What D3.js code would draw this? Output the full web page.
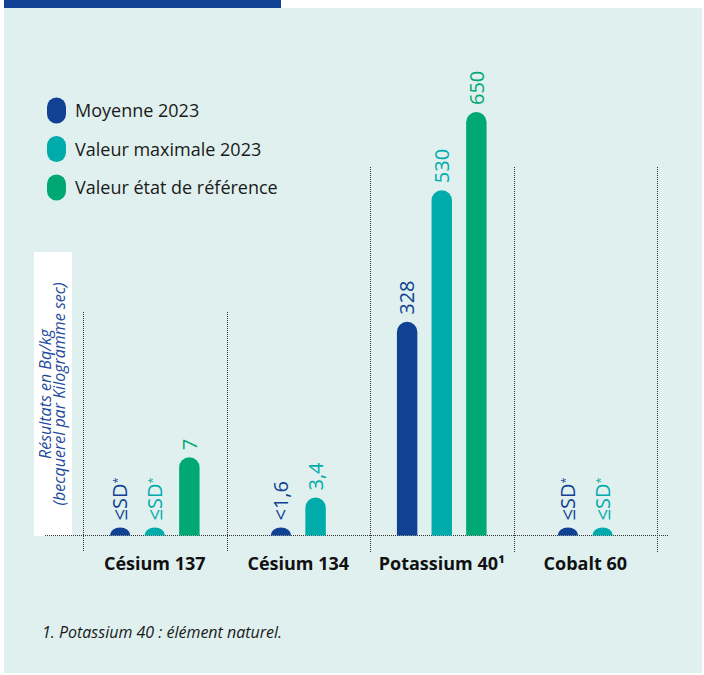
<!DOCTYPE html>
<html>
<head>
<meta charset="utf-8">
<script src="https://cdn.jsdelivr.net/npm/d3@7"></script>
<style>
  body { margin: 0; background: #ffffff; }
  svg { display: block; font-family: "Open Sans", sans-serif; }
</style>
</head>
<body>
<div id="vis"></div>
<script>
// data
const categories = ["Césium 137", "Césium 134", "Potassium 40", "Cobalt 60"];
const categoryLabels = ["Césium 137", "Césium 134", "Potassium 40¹", "Cobalt 60"];
const panelScale = ["low", "low", "high", "high"]; // the caesium panels are zoomed in

const series = ["Moyenne 2023", "Valeur maximale 2023", "Valeur état de référence"];
const moyenne = [null, 1.6, 328, null];
const valeurMax = [null, 3.4, 530, null];
const valeurRef = [7, null, 650, null];
const moyenneLabels = ["≤SD*", "<1,6", "328", "≤SD*"];
const valeurMaxLabels = ["≤SD*", "3,4", "530", "≤SD*"];
const valeurRefLabels = ["7", null, "650", null];

const COLORS = ["#114193", "#00abac", "#00a872"];
const FRAME_WIDTH = 704;
const FRAME_HEIGHT = 675;
const BASE_Y = 535.5;
const PANEL_TOP = {low: 312, high: 167};

const FRAME = d3.select("#vis")
  .append("svg")
    .attr("width", FRAME_WIDTH)
    .attr("height", FRAME_HEIGHT);

// background panel + top band
FRAME.append("rect")
  .attr("x", 4).attr("y", 8)
  .attr("width", 698).attr("height", 665)
  .attr("fill", "#dff0ef");
FRAME.append("rect")
  .attr("x", 4).attr("y", 0)
  .attr("width", 277).attr("height", 8)
  .attr("fill", "#114193");

// scales
const X0 = d3.scaleBand().domain(categories).range([83, 657]);
const Y_SCALES = {
  low: d3.scaleLinear().domain([0, 20]).range([BASE_Y, 312]),
  high: d3.scaleLinear().domain([0, 650]).range([BASE_Y, 112])
};

// y label box
FRAME.append("rect")
  .attr("x", 34).attr("y", 252)
  .attr("width", 38).attr("height", 284)
  .attr("fill", "#ffffff");

const yLab = FRAME.append("text")
  .attr("transform", "translate(0,394) rotate(-90)")
  .attr("text-anchor", "middle")
  .attr("font-style", "italic")
  .attr("font-size", 16)
  .attr("fill", "#1d4a9b");
yLab.append("tspan").attr("x", 0).attr("y", 51).text("Résultats en Bq/kg");
yLab.append("tspan").attr("x", 0).attr("y", 65).text("(becquerel par Kilogramme sec)");

// separators
const sepX = categories.map(c => X0(c)).concat([X0.range()[1]]);
sepX.forEach((x, i) => {
  const tops = [];
  if (i > 0) tops.push(PANEL_TOP[panelScale[i - 1]]);
  if (i < categories.length) tops.push(PANEL_TOP[panelScale[i]]);
  FRAME.append("line")
    .attr("x1", Math.round(x) + 0.5).attr("x2", Math.round(x) + 0.5)
    .attr("y1", d3.min(tops)).attr("y2", 552)
    .attr("stroke", "#333")
    .attr("stroke-width", 1)
    .attr("stroke-dasharray", "1,1");
});

// baseline
FRAME.append("line")
  .attr("x1", 45).attr("x2", 668)
  .attr("y1", BASE_Y).attr("y2", BASE_Y)
  .attr("stroke", "#333")
  .attr("stroke-width", 1)
  .attr("stroke-dasharray", "1,1");

// flatten into marks
const values = [moyenne, valeurMax, valeurRef];
const labels = [moyenneLabels, valeurMaxLabels, valeurRefLabels];
const marks = [];
categories.forEach((c, ci) => {
  const present = series.filter((s, si) => labels[si][ci] !== null);
  const step = 34.5;
  const cx = X0(c) + X0.bandwidth() / 2;
  const x1 = d3.scaleBand()
    .domain(present)
    .range([cx - present.length * step / 2, cx + present.length * step / 2])
    .paddingInner(0.41).paddingOuter(0.2);
  present.forEach(s => {
    const si = series.indexOf(s);
    const lab = labels[si][ci];
    marks.push({
      cat: c, series: s, si: si,
      value: values[si][ci],
      label: lab,
      below: lab[0] === "<" || lab[0] === "≤",
      x: x1(s), w: x1.bandwidth(),
      y: Y_SCALES[panelScale[ci]]
    });
  });
});

function barPath(d) {
  const r = d.w / 2;
  const x = d.x;
  if (d.below) {
    return `M${x},${BASE_Y} A${r},8 0 0 1 ${x + d.w},${BASE_Y} Z`;
  }
  const top = d.y(d.value);
  return `M${x},${BASE_Y} V${top + r} A${r},${r} 0 0 1 ${x + d.w},${top + r} V${BASE_Y} Z`;
}

FRAME.selectAll(".bar")
  .data(marks)
  .enter()
  .append("path")
    .attr("class", "bar")
    .attr("d", barPath)
    .attr("fill", d => COLORS[d.si]);

// value labels, rotated
const vl = FRAME.selectAll(".vlabel")
  .data(marks)
  .enter()
  .append("text")
    .attr("class", "vlabel")
    .attr("transform", d => {
      const top = d.below ? BASE_Y - 8 : d.y(d.value);
      return "translate(" + (d.x + d.w / 2) + "," + (top - 7) + ") rotate(-90)";
    })
    .attr("dy", "0.36em")
    .attr("font-size", 20)
    .attr("font-weight", 500)
    .attr("fill", d => COLORS[d.si]);
vl.each(function(d) {
  const t = d3.select(this);
  if (d.label.endsWith("*")) {
    t.append("tspan").text(d.label.slice(0, -1));
    t.append("tspan").attr("dy", "-0.55em").attr("font-size", 11).text("*");
  } else {
    t.text(d.label);
  }
});

// category labels
FRAME.selectAll(".cat")
  .data(categories)
  .enter()
  .append("text")
    .attr("class", "cat")
    .attr("x", d => X0(d) + X0.bandwidth() / 2)
    .attr("y", 570)
    .attr("text-anchor", "middle")
    .attr("font-weight", "bold")
    .attr("font-size", 18)
    .attr("fill", "#111")
    .text((d, i) => categoryLabels[i]);

// legend
const legend = FRAME.selectAll(".leg")
  .data(series)
  .enter()
  .append("g")
    .attr("class", "leg")
    .attr("transform", (d, i) => "translate(47," + (110.5 + i * 38.5) + ")");
legend.append("rect")
  .attr("x", 0).attr("y", -13)
  .attr("width", 19).attr("height", 26)
  .attr("rx", 9.5)
  .attr("fill", (d, i) => COLORS[i]);
legend.append("text")
  .attr("x", 28).attr("y", 6.5)
  .attr("font-size", 18)
  .attr("fill", "#1a1a1a")
  .text(d => d);

// footnote
FRAME.append("text")
  .attr("x", 42).attr("y", 638)
  .attr("font-style", "italic")
  .attr("font-size", 16)
  .attr("fill", "#1a1a1a")
  .text("1. Potassium 40 : élément naturel.");
</script>
</body>
</html>
